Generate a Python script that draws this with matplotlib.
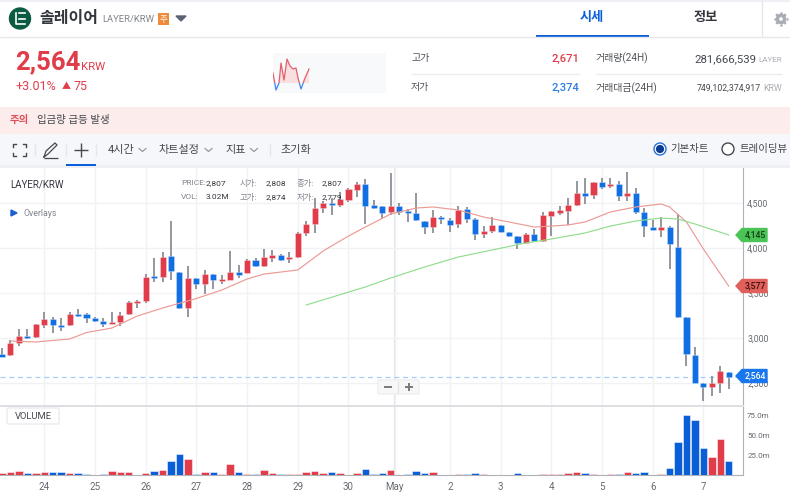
import numpy as np
import matplotlib
matplotlib.use('Agg')
from matplotlib import pyplot as plt
from matplotlib.patches import Circle, Polygon, Rectangle, FancyBboxPatch

plt.rcParams['font.family'] = ['Roboto', 'Noto Sans CJK KR', 'DejaVu Sans']

# candles, 4 hour bars (KRW)
opens = [2822, 2811, 2944, 3022, 3011, 3144, 3211, 3144, 3144, 3267, 3267, 3222, 3189, 3156, 3178,
         3267, 3389, 3411, 3689, 3678, 3911, 3733, 3333, 3667, 3600, 3711, 3633, 3644, 3733, 3722,
         3867, 3800, 3889, 3922, 3878, 3900, 4167, 4267, 4444, 4500, 4478, 4533, 4644, 4711, 4478,
         4467, 4400, 4467, 4411, 4389, 4300, 4233, 4344, 4311, 4267, 4433, 4322, 4156, 4189, 4256,
         4178, 4133, 4056, 4156, 4078, 4356, 4389, 4411, 4478, 4611, 4589, 4733, 4689, 4711, 4578,
         4611, 4400, 4233, 4200, 4233, 4011, 3233, 2811, 2500, 2456, 2500, 2622]
highs = [2889, 2978, 3100, 3100, 3156, 3289, 3233, 3222, 3289, 3322, 3278, 3233, 3222, 3289, 3289,
         3411, 3422, 3711, 3889, 3956, 4300, 3733, 3800, 3667, 3756, 3711, 3700, 3967, 3811, 3878,
         3889, 3989, 3978, 3933, 3956, 4178, 4300, 4556, 4522, 4556, 4622, 4667, 4733, 4767, 4533,
         4467, 4833, 4500, 4433, 4611, 4300, 4422, 4356, 4333, 4467, 4456, 4333, 4244, 4344, 4256,
         4178, 4133, 4167, 4211, 4400, 4411, 4467, 4556, 4744, 4778, 4733, 4778, 4778, 4744, 4844,
         4667, 4444, 4311, 4344, 4244, 4378, 3233, 2900, 2500, 2578, 2689, 2622]
lows = [2789, 2800, 2911, 2989, 3000, 3111, 3056, 3078, 3133, 3233, 3167, 3178, 3122, 3156, 3133,
        3256, 3333, 3389, 3622, 3622, 3644, 3322, 3233, 3544, 3489, 3544, 3600, 3644, 3667, 3722,
        3789, 3789, 3844, 3856, 3833, 3889, 4133, 4167, 4389, 4367, 4456, 4511, 4567, 4267, 4433,
        4333, 4367, 4367, 4289, 4300, 4156, 4167, 4267, 4178, 4222, 4278, 4089, 4111, 4167, 4178,
        4122, 3989, 4056, 4067, 4067, 4133, 4367, 4256, 4467, 4489, 4544, 4656, 4667, 4522, 4522,
        4378, 4122, 4200, 4122, 3767, 3222, 2689, 2500, 2300, 2356, 2389, 2433]
closes = [2789, 2944, 3022, 3000, 3156, 3211, 3144, 3122, 3267, 3244, 3222, 3189, 3156, 3178, 3256,
          3400, 3411, 3678, 3667, 3900, 3744, 3333, 3667, 3600, 3711, 3644, 3656, 3733, 3700, 3867,
          3800, 3900, 3922, 3867, 3900, 4167, 4267, 4444, 4500, 4478, 4544, 4656, 4711, 4467, 4444,
          4389, 4467, 4400, 4389, 4311, 4233, 4344, 4322, 4256, 4422, 4322, 4156, 4189, 4256, 4178,
          4133, 4056, 4156, 4078, 4367, 4411, 4422, 4478, 4611, 4578, 4733, 4678, 4711, 4578, 4611,
          4400, 4244, 4200, 4233, 4044, 3233, 2822, 2500, 2456, 2500, 2633, 2564]

# volume in millions, r = red bar, b = blue bar
volumes = [2.5, 3.4, 4.6, 2.5, 2, 3.4, 3.4, 3.4, 2.5, 2.5, 1.7, 0.5, 1.3, 5.5, 3.4,
           3.4, 0.5, 2.5, 4.6, 6.8, 17.7, 26.2, 20.7, 1.7, 4.2, 4.2, 1.7, 14, 3.4, 1.3,
           1.3, 6.8, 2.5, 1.3, 1.3, 1.3, 4.2, 5.5, 2.5, 3.4, 2.5, 0.5, 2.5, 7.6, 1.3,
           2.5, 6.3, 0.5, 1.7, 4.6, 2.5, 3.4, 0.5, 0.5, 1.7, 1.7, 2.5, 1.3, 0.5, 0.5,
           0.5, 3, 0.5, 0.5, 1.7, 1.7, 1.7, 2.5, 4.2, 2.5, 1.3, 0.5, 1.3, 1.3, 4.2,
           2.5, 4.2, 0.5, 1.3, 9.3, 42, 76, 69, 34, 23, 46, 18]
volume_colors = ['r', 'r', 'r', 'b', 'r', 'r', 'b', 'b', 'r', 'b', 'b', 'b', 'b', 'r', 'r',
                 'r', 'r', 'r', 'b', 'r', 'b', 'b', 'r', 'b', 'r', 'b', 'r', 'r', 'b', 'r',
                 'b', 'r', 'r', 'b', 'r', 'r', 'r', 'r', 'r', 'b', 'r', 'r', 'r', 'b', 'b',
                 'b', 'r', 'b', 'b', 'b', 'b', 'r', 'b', 'b', 'r', 'b', 'b', 'r', 'r', 'b',
                 'b', 'b', 'r', 'b', 'r', 'r', 'r', 'r', 'r', 'b', 'r', 'b', 'r', 'b', 'r',
                 'b', 'b', 'b', 'r', 'b', 'b', 'b', 'b', 'b', 'r', 'r', 'b']

ma_short_idx = [1, 4, 8, 10, 13, 16, 19, 23, 26, 29, 31, 33, 35, 38, 41, 43, 46, 49, 51, 54, 57, 60, 63, 65, 67,
                69, 72, 75, 78, 79, 81, 83, 86]
ma_short = [2967, 2956, 2989, 3061, 3111, 3244, 3333, 3439, 3533, 3656, 3711, 3733, 3756, 3967, 4133, 4233, 4378,
            4444, 4456, 4422, 4344, 4289, 4233, 4244, 4256, 4289, 4400, 4456, 4489, 4456, 4289, 3989, 3577]
ma_long_idx = [36, 43, 46, 50, 54, 58, 62, 65, 69, 72, 75, 78, 80, 82, 86]
ma_long = [3367, 3567, 3667, 3789, 3900, 3978, 4056, 4100, 4167, 4244, 4300, 4333, 4322, 4267, 4145]

# x ticks: candle number, label
day_ticks = [5, 11, 17, 23, 29, 35, 41, 46.5, 53, 59, 65, 71, 77, 83]
day_labels = ['24', '25', '26', '27', '28', '29', '30', 'May', '2', '3', '4', '5', '6', '7']
price_ticks = [2500, 3000, 3500, 4000, 4500]
volume_ticks = [25, 50, 75]

# little price line in the header
spark_x = [0, 3, 6, 8, 11, 14, 17, 20, 23, 25, 28, 32, 36]
spark_y = [10, -7, 0, 20, 3, 24, 17, 14, 15, 5, -6, 5, 14]

RED = '#e03c4a'
BLUE = '#0f6fe3'
GRID = '#f1f2f4'
GREY = '#666a70'
DARK = '#33373d'

W, H = 790, 495
fig = plt.figure(figsize=(W / 100, H / 100), dpi=100, facecolor='white')


def box(left, top, right, bottom):
    return [left / W, 1 - bottom / H, (right - left) / W, (bottom - top) / H]


# main price pane
ax = fig.add_axes(box(0, 168, 743, 406))
ax.set_xlim(-0.237, 87.69)
ax.set_ylim(2244.6, 4889)
ax.set_xticks(day_ticks)
ax.set_yticks(price_ticks)
ax.set_yticklabels([f'{p:,}' for p in price_ticks], fontsize=6.3, color=GREY)
ax.yaxis.tick_right()
ax.tick_params(axis='x', length=0, labelbottom=False)
ax.tick_params(axis='y', length=0, pad=3)
ax.grid(True, color=GRID, lw=1)
ax.set_axisbelow(True)
for s in ['top', 'left', 'bottom']:
    ax.spines[s].set_visible(False)
ax.spines['right'].set_color('#aeb1b5')
ax.axvline(46.5, color='#e4e5e8', lw=1.6, zorder=0.5)

xs = list(range(len(opens)))
colors = [RED if c >= o else BLUE for o, c in zip(opens, closes)]
ax.vlines(xs, lows, highs, color='#8b8f96', lw=1.3, zorder=2)
ax.bar(xs, [abs(c - o) for o, c in zip(opens, closes)], bottom=[min(o, c) for o, c in zip(opens, closes)],
       width=0.72, color=colors, edgecolor='#ffffff80', lw=0.4, zorder=3)
ax.plot(ma_short_idx, ma_short, color='#ec9a94', lw=0.85, zorder=4)
ax.plot(ma_long_idx, ma_long, color='#93dd8f', lw=0.85, zorder=4)
ax.axhline(closes[-1], xmax=0.99, color='#a7cdf8', lw=0.9, ls=(0, (4, 3)), zorder=1)

# volume pane
vax = fig.add_axes(box(0, 406, 743, 475))
vax.set_xlim(-0.237, 87.69)
vax.set_ylim(0, 87.2)
vax.bar(xs, volumes, width=0.88, color=[RED if v == 'r' else '#0a5fd8' for v in volume_colors],
        edgecolor='#ffffff90', lw=0.6, zorder=3)
vax.set_xticks(day_ticks)
vax.set_xticklabels(day_labels, fontsize=7, color=GREY)
vax.set_yticks(volume_ticks)
vax.set_yticklabels([f'{v}.0m' for v in volume_ticks], fontsize=5.8, color=GREY)
vax.yaxis.tick_right()
vax.tick_params(axis='x', length=0, pad=5)
vax.tick_params(axis='y', length=0, pad=3)
vax.grid(True, axis='x', color=GRID, lw=1)
vax.set_axisbelow(True)
vax.spines['left'].set_visible(False)
vax.spines['top'].set_color('#dddfe2')
vax.spines['top'].set_linewidth(1.4)
vax.spines['bottom'].set_color('#aeb1b5')
vax.spines['right'].set_color('#aeb1b5')
vax.axvline(46.5, color='#e4e5e8', lw=1.6, zorder=0.5)

# everything round the chart, in pixels
ui = fig.add_axes([0, 0, 1, 1], facecolor='none')
ui.set_xlim(0, W)
ui.set_ylim(H, 0)
ui.axis('off')


def rect(x0, y0, x1, y1, color, **kw):
    ui.add_patch(Rectangle((x0, y0), x1 - x0, y1 - y0, facecolor=color, edgecolor='none', **kw))


def label(x, y, s, size=8, color=DARK, ha='left', weight='normal'):
    ui.text(x, y, s, fontsize=size, color=color, ha=ha, va='center', fontweight=weight)


def hline(x0, x1, y, color='#ececee', lw=1):
    ui.plot([x0, x1], [y, y], color=color, lw=lw, solid_capstyle='butt')


def vline(x, y0, y1, color='#e4e6ea', lw=1):
    ui.plot([x, x], [y0, y1], color=color, lw=lw, solid_capstyle='butt')


# header
rect(0, 0, W, 2, '#eef0f6')
hline(0, W, 36.5, '#e6e7ea')
ui.add_patch(Circle((20, 18.5), 10.5, color='#0c5a42'))
ui.plot([16, 16, 25], [13, 24, 24], color='white', lw=1.2)
ui.plot([19, 25], [13, 13], color='white', lw=1.2)
ui.plot([19, 25], [18.5, 18.5], color='white', lw=1.2)
label(39, 18, '솔레이어', 11.5, DARK, weight='bold')
label(102, 19, 'LAYER/KRW', 6.8, '#80848c')
rect(158, 13, 169, 24.5, '#ef8a3a')
label(163.5, 18.7, '주', 6, 'white', ha='center')
ui.add_patch(Polygon([(176, 16), (186, 16), (181, 21)], color='#5b6275'))
label(592, 18, '시세', 9.5, '#0a5fd8', ha='center', weight='bold')
rect(536, 35, 649, 37.5, '#0a5fd8')
label(706, 18, '정보', 9.5, DARK, ha='center', weight='bold')
vline(762, 0, 36)
# gear icon
ui.add_patch(Circle((781, 19), 3.6, facecolor='white', edgecolor='#a9adb3', lw=2.4))
for a in np.arange(0, 2 * np.pi, np.pi / 4):
    ui.plot([781 + 4.5 * np.cos(a), 781 + 6.8 * np.cos(a)], [19 + 4.5 * np.sin(a), 19 + 6.8 * np.sin(a)],
            color='#a9adb3', lw=1.8, solid_capstyle='butt')

# price block
label(15, 62, '2,564', 18.5, RED, weight='bold')
label(81, 67, 'KRW', 8.2, RED)
label(15, 87, '+3.01%', 9, RED)
label(62, 87, '▲', 6.5, RED)
label(73, 87, '75', 9, RED)

spark = fig.add_axes(box(273, 53, 386, 93), facecolor='#f8f9fb')
spark.set_xlim(0, 113)
spark.set_ylim(-10, 30)
spark.axis('off')
spark.add_patch(Rectangle((0, -10), 113, 40, color='#f8f9fb'))
spark.fill_between(spark_x, spark_y, 0, where=[v >= 0 for v in spark_y], color='#f9dfe0', lw=0, interpolate=True)
up_line, = spark.plot(spark_x, spark_y, color='#e2606c', lw=0.9)
up_line.set_clip_path(Rectangle((0, 0), 113, 30, transform=spark.transData))
down_line, = spark.plot(spark_x, spark_y, color='#3d87ea', lw=0.9)
down_line.set_clip_path(Rectangle((0, -10), 113, 10, transform=spark.transData))

label(411, 58, '고가', 7.2, '#50545a')
label(579, 59, '2,671', 8, RED, ha='right', weight='medium')
hline(411, 580, 73.5)
label(411, 87, '저가', 7.2, '#50545a')
label(579, 88, '2,374', 8, '#2a7be4', ha='right', weight='medium')
label(596, 58, '거래량(24H)', 7.2, '#50545a')
label(756, 59, '281,666,539', 8.2, '#45494f', ha='right')
label(782, 60, 'LAYER', 5.8, '#a9adb3', ha='right')
hline(596, 782, 73.5)
label(596, 88, '거래대금(24H)', 7.2, '#50545a')
label(761, 88, '749,102,374,917', 6.3, '#45494f', ha='right')
label(782, 88.5, 'KRW', 6.3, '#a9adb3', ha='right')

# alert band
rect(0, 107, W, 134, '#fcecec')
label(10, 119.5, '주의', 7.5, '#e0505a', weight='bold')
label(37, 119.5, '입금량 급등 발생', 7.5, '#45494f')

# toolbar
rect(0, 134, W, 165, '#f5f7fa')
rect(0, 165, W, 168, '#eef0f6')
for cx, cy, dx, dy in [(13, 144, 1, 1), (26, 144, -1, 1), (13, 156, 1, -1), (26, 156, -1, -1)]:
    ui.plot([cx + 3 * dx, cx, cx], [cy, cy, cy + 3 * dy], color='#45494f', lw=1)
ui.plot([44, 46, 55, 57, 48, 44], [157, 151, 143, 145, 154, 157], color='#45494f', lw=0.9)
hline(44, 58, 157.5, '#45494f', 0.9)
hline(74, 88, 150, '#45494f', 1)
vline(81, 143, 157, '#45494f', 1)
rect(66, 163.5, 96, 165.5, '#0a5fd8')
for sx in [35, 66, 96, 270]:
    vline(sx, 144, 156)
for tx, s in [(108, '4시간'), (159, '차트설정'), (225, '지표'), (280, '초기화')]:
    label(tx, 150, s, 8, '#45494f')
for cx in [142.5, 208.5, 254]:
    ui.plot([cx - 3.5, cx, cx + 3.5], [148.5, 151.5, 148.5], color='#8b8f96', lw=0.8)
ui.add_patch(Circle((660, 149), 6, facecolor='white', edgecolor='#2a6fd6', lw=1))
ui.add_patch(Circle((660, 149), 3.4, color='#0a3d91'))
label(670, 149, '기본차트', 7.5, '#45494f')
ui.add_patch(Circle((728, 149), 6, facecolor='white', edgecolor='#45494f', lw=1))
label(739, 149, '트레이딩뷰', 7.5, '#45494f')

# chart legend
label(10, 185, 'LAYER/KRW', 7, DARK)
for tx, ty, s, c in [(181, 183, 'PRICE:', '#80848c'), (206, 183, '2,807', DARK), (240, 183, '시가:', '#80848c'),
                     (266, 183, '2,808', DARK), (297, 183, '종가:', '#80848c'), (322, 183, '2,807', DARK),
                     (181, 197, 'VOL:', '#80848c'), (206, 197, '3.02M', DARK), (240, 197, '고가:', '#80848c'),
                     (266, 197, '2,874', DARK), (297, 197, '저가:', '#80848c'), (322, 197, '2,779', DARK)]:
    label(tx, ty, s, 6, c)
ui.add_patch(Polygon([(11, 210), (17, 213), (11, 216)], color='#1a5fd0'))
label(23, 213, 'Overlays', 6.3, '#80848c')

# price tags on the axis
for y, s, c, tc in [(235, '4,145', '#4bc457', '#123d17'), (286, '3,577', '#e0615c', '#3d0f0d'),
                    (376, '2,564', '#1a76ee', 'white')]:
    ui.add_patch(Polygon([(736, y), (742, y - 6.5), (767, y - 6.5), (767, y + 6.5), (742, y + 6.5)], color=c))
    label(755, y + 0.3, s, 6.2, tc, ha='center', weight='medium')

# zoom buttons
ui.add_patch(FancyBboxPatch((378, 380), 41, 14, boxstyle='round,pad=0,rounding_size=1', facecolor='#f7f7f8',
                            edgecolor='#efeff1', lw=1))
vline(398, 381, 393, '#e4e5e8')
hline(384, 392, 387, '#77797d', 1.4)
hline(405, 413, 387, '#77797d', 1.4)
vline(409, 383, 391, '#77797d', 1.4)

# volume tag
ui.add_patch(FancyBboxPatch((7, 408), 52, 16, boxstyle='round,pad=0,rounding_size=1', facecolor='white',
                            edgecolor='#ececee', lw=1))
label(33.5, 416.5, 'VOLUME', 6.8, '#45494f', ha='center')

fig.savefig('out.png', dpi=100, facecolor='white')
